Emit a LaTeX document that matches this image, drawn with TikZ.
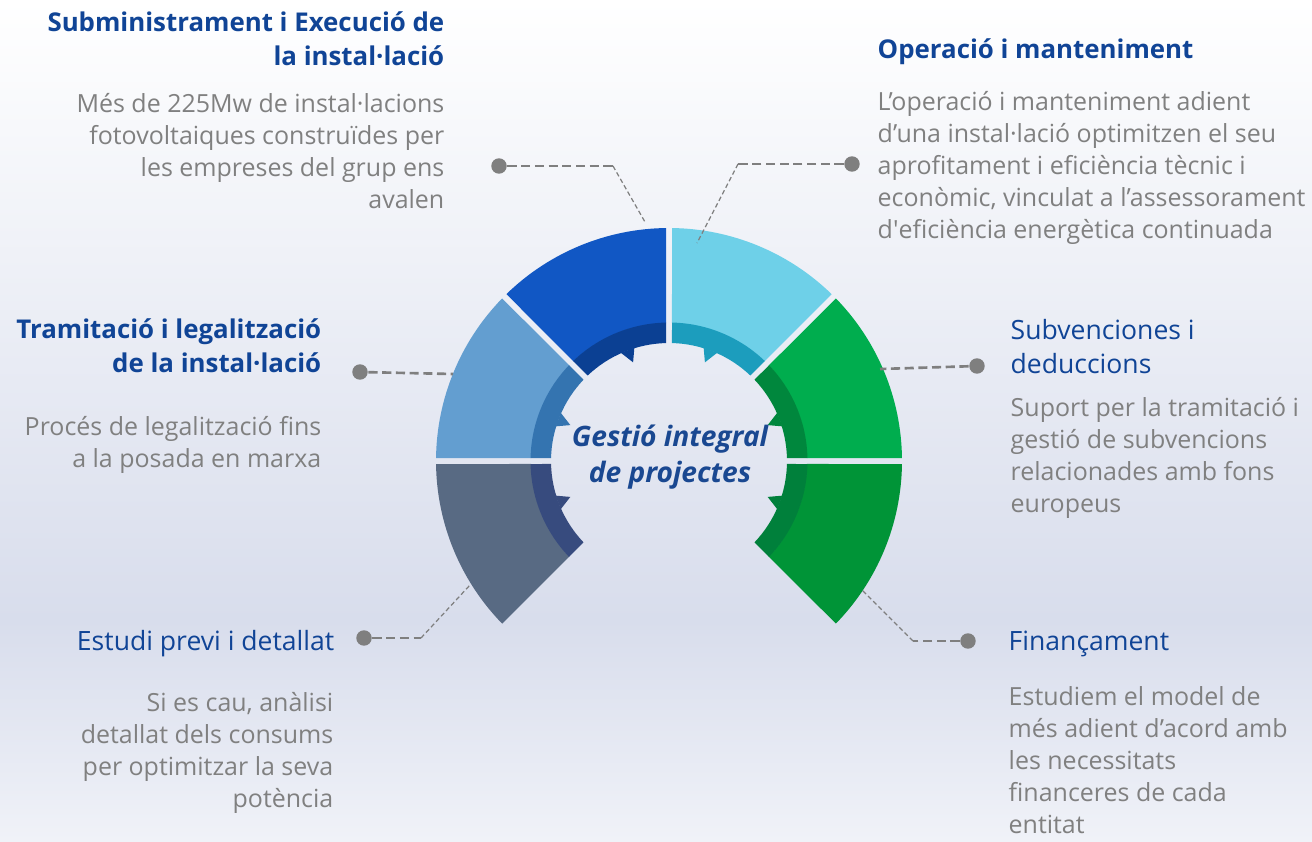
\documentclass[tikz,border=0pt]{standalone}
\usepackage{fontspec}
\setmainfont{Open Sans}
\usetikzlibrary{positioning}

\definecolor{headblue}{RGB}{16,68,150}
\definecolor{textgray}{RGB}{128,128,128}
\definecolor{centerblue}{RGB}{26,72,145}
\definecolor{linegray}{RGB}{127,127,127}
\definecolor{bgmid}{RGB}{216,221,236}
\definecolor{bgbot}{RGB}{240,242,248}
\definecolor{tlLight}{RGB}{17,87,196}   \definecolor{tlDark}{RGB}{11,64,147}
\definecolor{trLight}{RGB}{110,208,232} \definecolor{trDark}{RGB}{28,157,189}
\definecolor{ruLight}{RGB}{0,173,78}    \definecolor{ruDark}{RGB}{0,135,61}
\definecolor{rlLight}{RGB}{0,148,55}    \definecolor{rlDark}{RGB}{0,128,59}
\definecolor{luLight}{RGB}{99,158,208}  \definecolor{luDark}{RGB}{52,116,176}
\definecolor{llLight}{RGB}{88,106,131}  \definecolor{llDark}{RGB}{55,75,126}

% one piece of the ring: from angle, to angle, light colour, dark colour, tooth side
\newcommand{\ringpart}[5]{%
  \fill[#3] (#1+0.74:233) arc[start angle=#1+0.74, end angle=#2-0.74, radius=233]
    -- (#2-1.24:138) arc[start angle=#2-1.24, end angle=#1+1.24, radius=138] -- cycle;
  \fill[#4] (#1+1.24:138.5) arc[start angle=#1+1.24, end angle=#2-1.24, radius=138.5]
    -- (#2-1.45:118) arc[start angle=#2-1.45, end angle=#1+1.45, radius=118] -- cycle;
  \fill[#4] ({(#1+#2)/2+(#5)*1.5}:118.5) -- ({(#1+#2)/2-(#5)*2.5}:105)
    -- ({(#1+#2)/2-(#5)*5.5}:118.5) -- cycle;
}

\begin{document}
\begin{tikzpicture}
      [x=0.01cm, y=0.01cm,
      head/.style={inner sep=0pt, text=headblue, font=\fontsize{7.35}{9.5}\selectfont\bfseries},
      subhead/.style={inner sep=0pt, text=headblue, font=\fontsize{7.55}{9.6}\selectfont},
      body/.style={inner sep=0pt, text=textgray, font=\fontsize{7.1}{9.1}\selectfont},
      dot/.style={circle, fill=linegray, inner sep=0pt, minimum size=4.4pt},
      lead/.style={draw=linegray, line width=0.75pt, dash pattern=on 2.6pt off 1.3pt},
      leadthin/.style={draw=linegray, line width=0.35pt, dash pattern=on 1.3pt off 0.8pt}]

      \useasboundingbox (0,0) rectangle (1312,841);
      \fill[top color=white, bottom color=bgmid] (0,841) rectangle (1312,221);
      \fill[top color=bgmid, bottom color=bgbot] (0,221) rectangle (1312,0);

      \coordinate (C) at (669,380);

      % ring
      \begin{scope}[shift={(C)}]
        \ringpart{90}{135}{tlLight}{tlDark}{1}
        \ringpart{45}{90}{trLight}{trDark}{-1}
        \ringpart{0}{45}{ruLight}{ruDark}{1}
        \ringpart{-45}{0}{rlLight}{rlDark}{-1}
        \ringpart{135}{180}{luLight}{luDark}{-1}
        \ringpart{180}{225}{llLight}{llDark}{1}
      \end{scope}

      \node [align=center, inner sep=0pt, text=centerblue,
        font=\fontsize{8}{10}\selectfont\bfseries\itshape, anchor=base] (center)
        at (670,359) {Gestió integral\\de projectes};

      % labels (base = last line)
      \node [head, align=right, anchor=base east] (subHead) at (445,776)
        {Subministrament i Execució de\\la instal·lació};
      \node [body, align=right, anchor=base east] (subBody) at (445,633)
        {Més de 225Mw de instal·lacions\\fotovoltaiques construïdes per\\les empreses del grup ens\\avalen};
      \node [head, align=left, anchor=base west] (opeHead) at (877,783)
        {Operació i manteniment};
      \node [body, align=left, anchor=base west] (opeBody) at (877,603)
        {L’operació i manteniment adient\\d’una instal·lació optimitzen el seu\\aprofitament i eficiència tècnic i\\econòmic, vinculat a l’assessorament\\d\textquotesingle eficiència energètica continuada};
      \node [head, align=right, anchor=base east] (traHead) at (322,469)
        {Tramitació i legalització\\de la instal·lació};
      \node [body, align=right, anchor=base east] (traBody) at (322,374)
        {Procés de legalització fins\\a la posada en marxa};
      \node [subhead, align=left, anchor=base west] (subvHead) at (1010,468)
        {Subvenciones i\\deduccions};
      \node [body, align=left, anchor=base west] (subvBody) at (1010,329)
        {Suport per la tramitació i\\gestió de subvencions\\relacionades amb fons\\europeus};
      \node [subhead, align=right, anchor=base east] (estHead) at (335,191)
        {Estudi previ i detallat};
      \node [body, align=right, anchor=base east] (estBody) at (334,34)
        {Si es cau, anàlisi\\detallat dels consums\\per optimitzar la seva\\potència};
      \node [subhead, align=left, anchor=base west] (finHead) at (1008,191)
        {Finançament};
      \node [body, align=left, anchor=base west] (finBody) at (1008,8)
        {Estudiem el model de\\més adient d’acord amb\\les necessitats\\financeres de cada\\entitat};

      % leader lines
      \node [dot] (dSub)  at (499,675) {};
      \node [dot] (dOpe)  at (852,677) {};
      \node [dot] (dTra)  at (360,469) {};
      \node [dot] (dSubv) at (977,475) {};
      \node [dot] (dEst)  at (364,203) {};
      \node [dot] (dFin)  at (968,200) {};
      \coordinate (kSub) at (613,675);  \coordinate (eSub) at (645,619);
      \coordinate (kOpe) at (738,677);  \coordinate (eOpe) at (697,598);
      \coordinate (eTra) at (453,467);
      \coordinate (eSubv) at (880,472);
      \coordinate (kEst) at (421,203);  \coordinate (eEst) at (470,256);
      \coordinate (kFin) at (913,200);  \coordinate (eFin) at (862,251);

      \draw [lead] (dSub) -- (kSub);   \draw [leadthin] (kSub) -- (eSub);
      \draw [lead] (dOpe) -- (kOpe);   \draw [leadthin] (kOpe) -- (eOpe);
      \draw [lead] (dTra) -- (eTra);
      \draw [lead] (dSubv) -- (eSubv);
      \draw [lead] (dEst) -- (kEst);   \draw [leadthin] (kEst) -- (eEst);
      \draw [lead] (dFin) -- (kFin);   \draw [leadthin] (kFin) -- (eFin);
    \end{tikzpicture}
\end{document}
